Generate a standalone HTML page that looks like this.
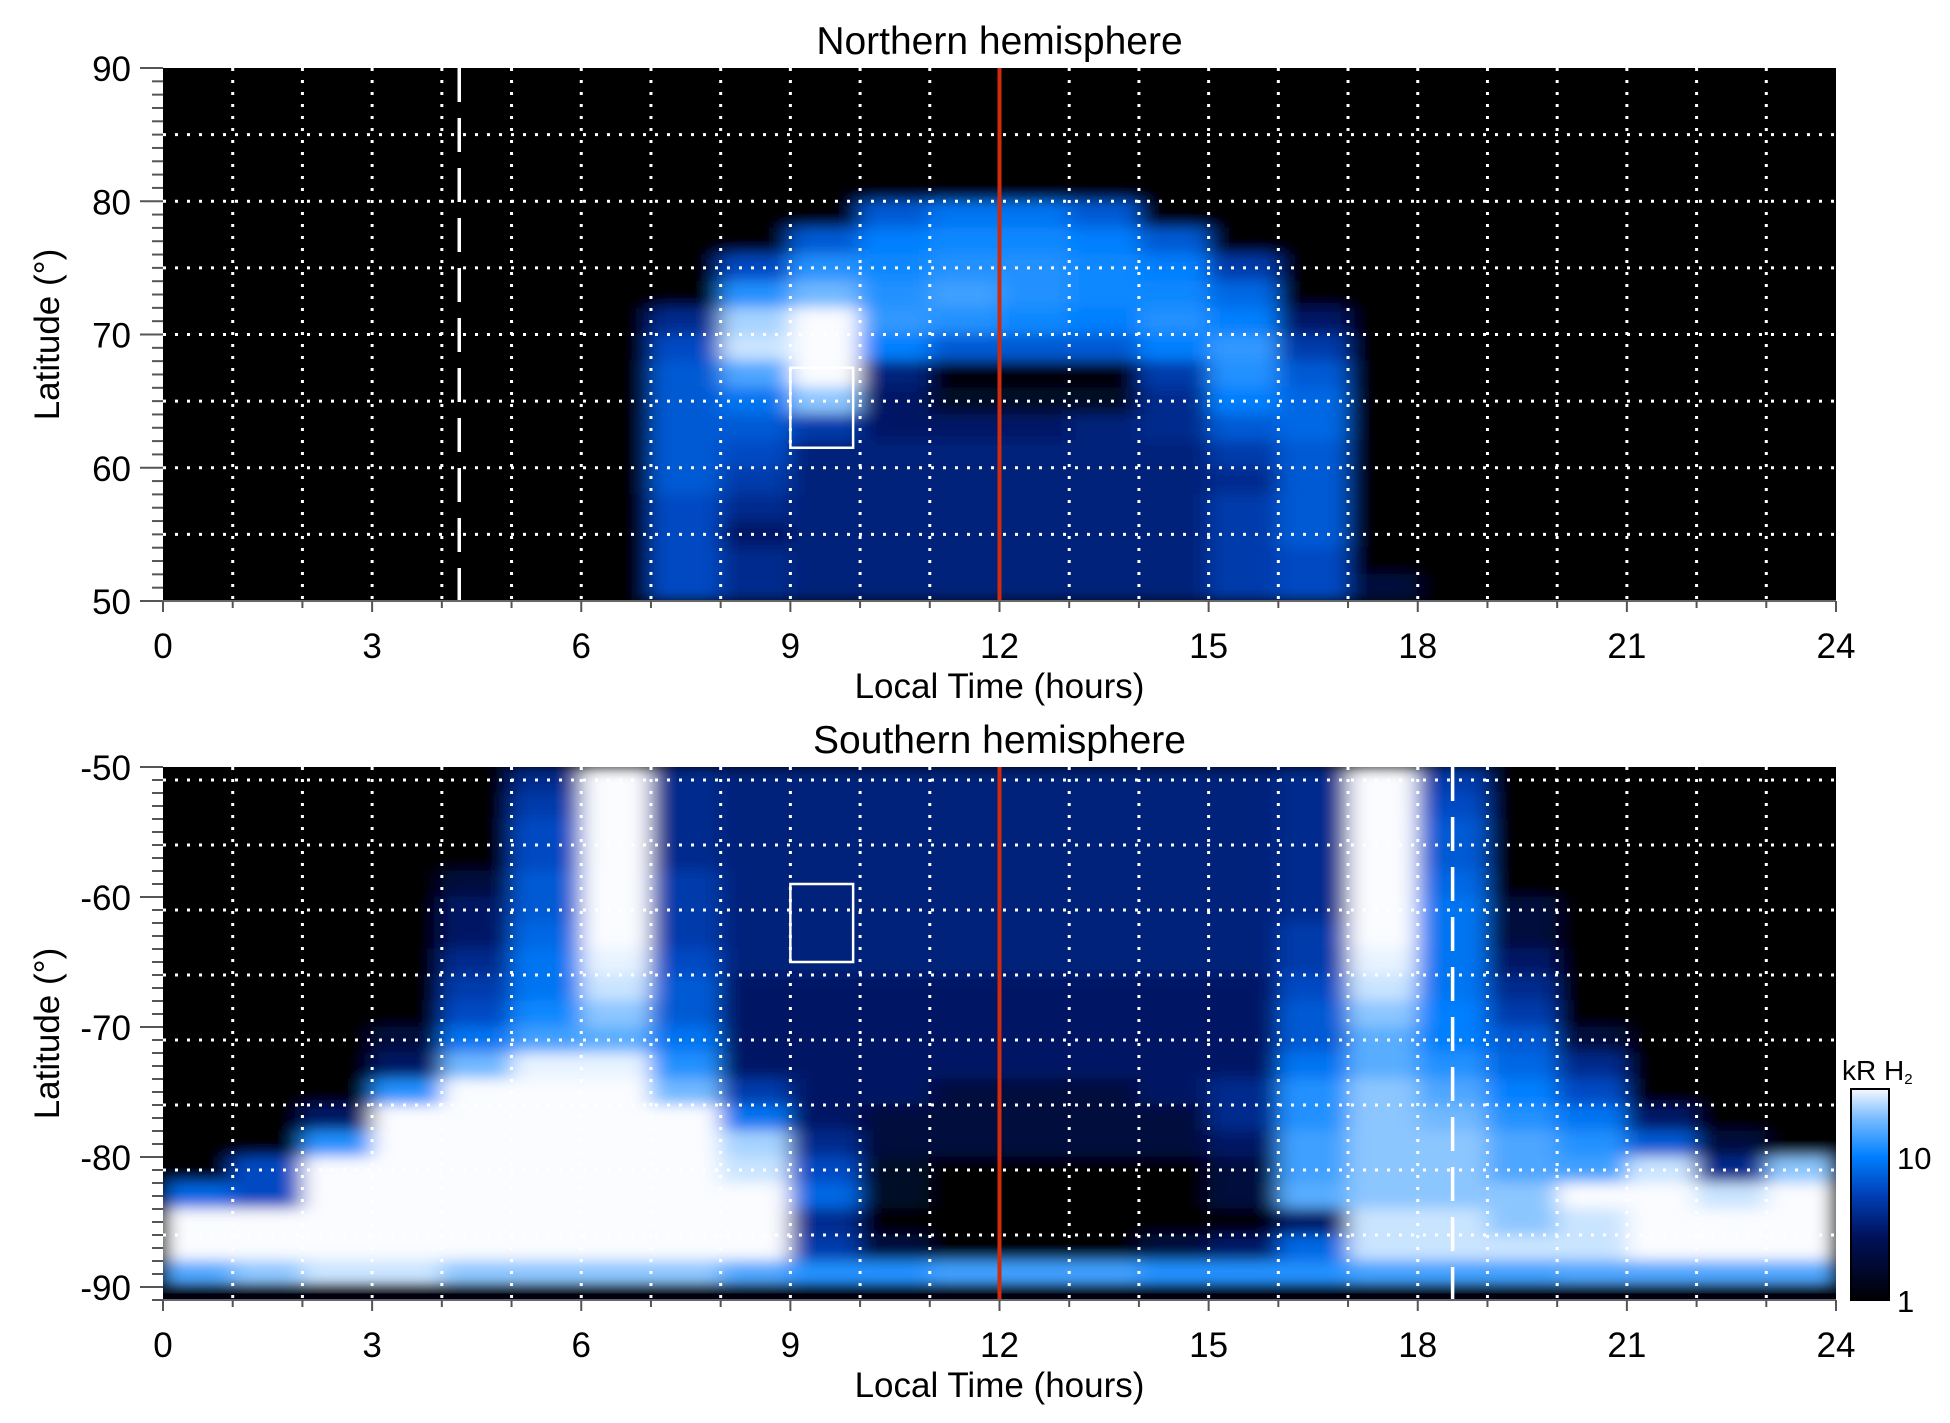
<!DOCTYPE html>
<html><head><meta charset="utf-8"><style>
html,body{margin:0;padding:0;background:#fff;}
svg{display:block;font-family:"Liberation Sans",Arial,sans-serif;}
</style></head><body>
<svg id="fig" width="1950" height="1423" viewBox="0 0 1950 1423" xmlns="http://www.w3.org/2000/svg">
<defs>
<filter id="blur" x="-5%" y="-5%" width="110%" height="110%"><feGaussianBlur stdDeviation="11 7"/></filter>
<clipPath id="clipN"><rect x="163" y="68" width="1673" height="533"/></clipPath>
<clipPath id="clipS"><rect x="163" y="767" width="1673" height="533"/></clipPath>
<linearGradient id="cbar" x1="0" y1="1" x2="0" y2="0">
<stop offset="0" stop-color="#000004"/><stop offset="0.3" stop-color="#00115a"/><stop offset="0.5" stop-color="#0040b8"/><stop offset="0.68" stop-color="#0080ff"/><stop offset="0.85" stop-color="#70b8ff"/><stop offset="1" stop-color="#f4f8ff"/>
</linearGradient>
</defs>
<g id="root"></g>
</svg>
<script>
// ---- data ----
const hours = [0.5,1.5,2.5,3.5,4.5,5.5,6.5,7.5,8.5,9.5,10.5,11.5,12.5,13.5,14.5,15.5,16.5,17.5,18.5,19.5,20.5,21.5,22.5,23.5];
const latsNorth = [89,87,85,83,81,79,77,75,73,71,69,67,65,63,61,59,57,55,53,51];
const northValues = [
[0,0,0,0,0,0,0,0,0,0,0,0,0,0,0,0,0,0,0,0,0,0,0,0],
[0,0,0,0,0,0,0,0,0,0,0,0,0,0,0,0,0,0,0,0,0,0,0,0],
[0,0,0,0,0,0,0,0,0,0,0,0,0,0,0,0,0,0,0,0,0,0,0,0],
[0,0,0,0,0,0,0,0,0,0,0,0,0,0,0,0,0,0,0,0,0,0,0,0],
[0,0,0,0,0,0,0,0,0,0,0,0,0,0,0,0,0,0,0,0,0,0,0,0],
[0,0,0,0,0,0,0,0,0,0,7,9,9,7,0,0,0,0,0,0,0,0,0,0],
[0,0,0,0,0,0,0,0,0,7,10,11,11,10,7,0,0,0,0,0,0,0,0,0],
[0,0,0,0,0,0,0,0,6,12,11,12,12,11,10,5,0,0,0,0,0,0,0,0],
[0,0,0,0,0,0,0,0,12,18,12,14,12,11,11,8,0,0,0,0,0,0,0,0],
[0,0,0,0,0,0,0,4,22,30,13,12,11,10,12,10,3,0,0,0,0,0,0,0],
[0,0,0,0,0,0,0,6,25,30,10,7,7,7,10,13,5,0,0,0,0,0,0,0],
[0,0,0,0,0,0,0,7,15,30,3.5,1,1,1,5,12,7,0,0,0,0,0,0,0],
[0,0,0,0,0,0,0,7,9,20,3,1.5,1.5,1.5,4,10,8,0,0,0,0,0,0,0],
[0,0,0,0,0,0,0,7,7,5,3,3,3,3.5,4,7,8,0,0,0,0,0,0,0],
[0,0,0,0,0,0,0,7,6,3.5,3.5,3.5,3.5,3.5,3.5,5,7,0,0,0,0,0,0,0],
[0,0,0,0,0,0,0,7,5,3.5,3.5,3.5,3.5,3.5,3.5,4,7,0,0,0,0,0,0,0],
[0,0,0,0,0,0,0,6,4,3.5,3.5,3.5,3.5,3.5,3.5,5,7,0,0,0,0,0,0,0],
[0,0,0,0,0,0,0,6,3,3.5,3.5,3.5,3.5,3.5,3.5,5,7,1,0,0,0,0,0,0],
[0,0,0,0,0,0,0,6,4,3.5,3.5,3.5,3.5,3.5,3.5,5,6,1,0,0,0,0,0,0],
[0,0,0,0,0,0,1,6,4,3.5,3.5,3.5,3.5,3.5,3.5,5,6,2,0,0,0,0,0,0]
];
const latsSouth = [-51,-53,-55,-57,-59,-61,-63,-65,-67,-69,-71,-73,-75,-77,-79,-81,-83,-85,-87,-89];
const southValues = [
[0,0,0,0,0,4,30,4,3.5,3.5,3.5,3.5,3.5,3.5,3.5,3.5,4,30,5,0,0,0,0,0],
[0,0,0,0,0,5,30,4,3.5,3.5,3.5,3.5,3.5,3.5,3.5,3.5,4,30,6,0,0,0,0,0],
[0,0,0,0,0,6,30,4,3.5,3.5,3.5,3.5,3.5,3.5,3.5,3.5,4,30,7,0,0,0,0,0],
[0,0,0,0,1,6,30,4,3.5,3.5,3.5,3.5,3.5,3.5,3.5,3.5,4,30,7,0,0,0,0,0],
[0,0,0,0,2,7,30,5,3.5,3.5,3.5,3.5,3.5,3.5,3.5,3.5,4,30,8,1,0,0,0,0],
[0,0,0,0,3,7,30,5,3.5,3.5,3.5,3.5,3.5,3.5,3.5,3.5,4,30,9,2,0,0,0,0],
[0,0,0,0,3,8,30,5,3.5,3.5,3.5,3.5,3.5,3.5,3.5,3.5,5,30,9,2,0,0,0,0],
[0,0,0,0,4,9,28,6,3.5,3.5,3.5,3.5,3.5,3.5,3.5,3.5,5,28,9,3,0,0,0,0],
[0,0,0,1,5,9,25,7,3,3,3,3,3,3,3,3,6,25,9,4,0,0,0,0],
[0,0,0,1,6,11,20,7,3,3,3,3,3,3,3,3,7,20,10,5,1,0,0,0],
[0,0,0,2,9,14,16,9,3,3,3,3,3,3,3,3,7,16,10,7,2,0,0,0],
[0,0,0,3,18,28,28,12,3,3,3,3,3,3,3,3,9,16,12,8,4,0,0,0],
[0,0,1,12,30,30,30,18,5,3,3,2,2,2,3,4,12,20,15,10,6,1,0,0],
[0,0,3,30,30,30,30,30,9,3,2,2,2,2,2,4,12,20,18,12,9,3,0,0],
[0,1,12,30,30,30,30,30,22,4,2,2,2,2,2,3,14,20,20,15,12,7,2,0],
[0,6,30,30,30,30,30,30,25,6,1.5,1,1,1,1,2,14,20,20,15,14,25,4,20],
[8,6,30,30,30,30,30,30,30,8,1.5,1,1,1,1,2,16,20,20,20,30,30,25,30],
[30,30,30,30,30,30,30,30,30,4,1,0.8,0.8,0.8,1,1,3,25,25,20,25,30,30,30],
[30,30,30,30,30,30,30,30,30,5,2,1,1,1,2,3,8,25,25,25,25,30,30,30],
[15,20,25,25,20,20,20,20,15,12,12,14,14,14,12,12,12,14,14,14,15,15,15,15]
];
const xTicks = [0,3,6,9,12,15,18,21,24];
const northYTicks = [50,60,70,80,90];
const southYTicks = [-50,-60,-70,-80,-90];
const cbarTicks = [1,10];
const NS = "http://www.w3.org/2000/svg";
const root = document.getElementById('root');

function mk(tag, attrs, parent, text){
  const e = document.createElementNS(NS, tag);
  for (const k in attrs) e.setAttribute(k, attrs[k]);
  if (text !== undefined) e.textContent = text;
  (parent||root).appendChild(e);
  return e;
}
const stops = [[0,[0,0,4]],[0.3,[0,17,90]],[0.5,[0,64,184]],[0.68,[0,128,255]],[0.85,[112,184,255]],[1,[250,252,255]]];
function cmap(v){
  let t = v<=1 ? 0 : Math.log10(v)/Math.log10(30);
  t = Math.max(0, Math.min(1, t));
  for (let i=1;i<stops.length;i++){
    if (t<=stops[i][0]){
      const a=stops[i-1], b=stops[i], f=(t-a[0])/(b[0]-a[0]);
      const c=a[1].map((x,j)=>Math.round(x+(b[1][j]-x)*f));
      return `rgb(${c[0]},${c[1]},${c[2]})`;
    }
  }
  return 'rgb(250,252,255)';
}
const X0=163, X1=1836;
const xs = h => X0 + (X1-X0)*h/24;

function panel(cfg){
  const {top, bottom, latTop, latBot, lats, vals, yTicks, title, clip, dash, box, key} = cfg;
  const ys = lat => top + (bottom-top)*(latTop-lat)/(latTop-latBot);
  const g = mk('g', {}, root);
  
  
  const bg = mk('rect', {x:X0, y:top, width:X1-X0, height:bottom-top, fill:'#000'}, g);
  
  
  const cg = mk('g', {'clip-path':`url(#${clip})`}, g);
  const hg = mk('g', {filter:'url(#blur)'}, cg);
  
  
  const dh = 1, dl = 2;
  lats.forEach((lat, r) => {
    hours.forEach((h, c) => {
      const v = vals[r][c];
      const ya = ys(lat + dl/2), yb = ys(lat - dl/2);
      const cell = mk('rect', {x: xs(h-dh/2)-0.5, y: Math.min(ya,yb)-0.5, width: xs(h+dh/2)-xs(h-dh/2)+1, height: Math.abs(yb-ya)+1, fill: cmap(v)}, hg);
      
      
    });
  });
  if (key==='south'){
    const bl = mk('rect', {x:X0, y:ys(-90.5), width:X1-X0, height:bottom-ys(-90.5), fill:'#000010'}, cg);
    
    
  }
  for (let h=1; h<24; h++){
    const l = mk('line', {x1:xs(h), x2:xs(h), y1:top, y2:bottom, stroke:'#fff', 'stroke-width':3, 'stroke-dasharray':'3 9'}, g);
    
    
  }
  for (let lat = Math.min(latTop,latBot)+5; lat < Math.max(latTop,latBot); lat += 5){
    if (lat===latTop||lat===latBot) continue;
    const l = mk('line', {x1:X0, x2:X1, y1:ys(lat), y2:ys(lat), stroke:'#fff', 'stroke-width':3, 'stroke-dasharray':'3 9'}, g);
    
    
  }
  const dl2 = mk('line', {x1:xs(dash), x2:xs(dash), y1:top, y2:bottom, stroke:'#fff', 'stroke-width':3.5, 'stroke-dasharray':'34 16'}, g);
  
  
  const bx = mk('rect', {x:xs(box[0]), y:ys(box[2]), width:xs(box[1])-xs(box[0]), height:ys(box[3])-ys(box[2]), fill:'none', stroke:'#fff', 'stroke-width':2.5}, g);
  
  
  const nl = mk('line', {x1:xs(12), x2:xs(12), y1:top, y2:bottom, stroke:'#d02c0c', 'stroke-width':4}, g);
  
  
  const ax = mk('line', {x1:X0-2, x2:X1, y1:bottom, y2:bottom, stroke:'#666', 'stroke-width':2}, g);
  
  
  for (let h=0; h<=24; h++){
    const t = mk('line', {x1:xs(h), x2:xs(h), y1:bottom, y2:bottom+(h%3===0?11:7), stroke:'#555', 'stroke-width':2}, g);
    
    
  }
  xTicks.forEach(h => {
    const t = mk('text', {x:xs(h), y:bottom+57, 'font-size':35, 'text-anchor':'middle', fill:'#000'}, g, String(h));
    
    
  });
  const lo = Math.min(latTop,latBot), hi = Math.max(latTop,latBot);
  for (let lat=Math.ceil(lo); lat<=hi; lat++){
    const major = lat%10===0;
    const t = mk('line', {x1:X0-(major?23:11), x2:X0, y1:ys(lat), y2:ys(lat), stroke:'#555', 'stroke-width':2}, g);
    
    
  }
  yTicks.forEach(lat => {
    const t = mk('text', {x:131, y:ys(lat)+13, 'font-size':35, 'text-anchor':'end', fill:'#000'}, g, String(lat));
    
    
  });
  const yl = mk('text', {x:0, y:0, 'font-size':35, 'text-anchor':'middle', fill:'#000', transform:`translate(59 ${(top+bottom)/2}) rotate(-90)`}, g, 'Latitude (°)');
  
  
  const xl = mk('text', {x:(X0+X1)/2, y:bottom+97, 'font-size':35, 'text-anchor':'middle', fill:'#000'}, g, 'Local Time (hours)');
  
  
  const tt = mk('text', {x:(X0+X1)/2, y:top-14, 'font-size':39, 'text-anchor':'middle', fill:'#000'}, g, title);
  
  
}

panel({top:68, bottom:601, latTop:90, latBot:50, lats:latsNorth, vals:northValues, yTicks:northYTicks, title:'Northern hemisphere', clip:'clipN', dash:4.25, box:[9,9.9,67.5,61.5], key:'north'});
panel({top:767, bottom:1300, latTop:-50, latBot:-91, lats:latsSouth, vals:southValues, yTicks:southYTicks, title:'Southern hemisphere', clip:'clipS', dash:18.5, box:[9,9.9,-59,-65], key:'south'});

const CB = {x:1851, w:38, top:1089, bottom:1300, max:30};
const cby = v => CB.bottom - (CB.bottom-CB.top)*Math.log10(v)/Math.log10(CB.max);
const cbr = mk('rect', {x:CB.x, y:CB.top, width:CB.w, height:CB.bottom-CB.top, fill:'url(#cbar)', stroke:'#000', 'stroke-width':2});


cbarTicks.forEach(v => {
  const t = mk('text', {x:1897, y:cby(v)+12, 'font-size':31, fill:'#000'}, root, String(v));
  
  
});
const ct = mk('text', {x:1842, y:1080, 'font-size':28, fill:'#000'}, root);


ct.appendChild(document.createTextNode('kR H'));
const sub = mk('tspan', {'font-size':15, dy:4}, ct, '2');
</script>
</body></html>
